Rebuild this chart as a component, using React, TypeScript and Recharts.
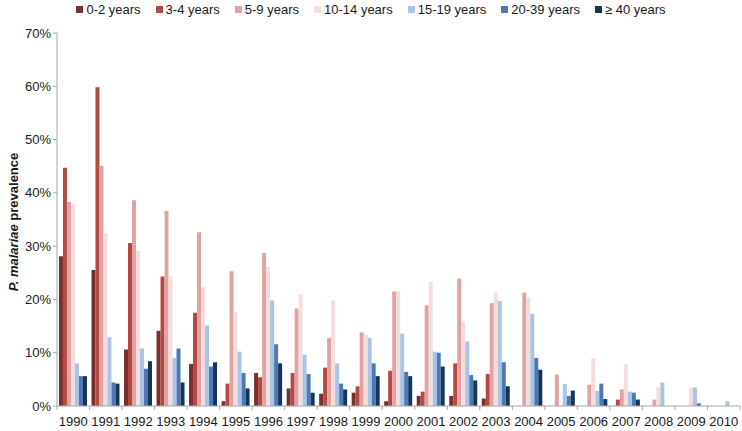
import React from 'react';
import { BarChart, Bar, XAxis, YAxis } from 'recharts';

const years = ['1990', '1991', '1992', '1993', '1994', '1995', '1996', '1997', '1998', '1999', '2000', '2001', '2002', '2003', '2004', '2005', '2006', '2007', '2008', '2009', '2010'];

const age0to2 = [28.1, 25.5, 10.6, 14.1, 7.9, 0.9, 6.2, 3.3, 2.3, 2.5, 0.9, 1.9, 1.9, 1.4, 0, 0, 0, 0, 0, 0, 0];
const age3to4 = [44.7, 59.8, 30.6, 24.3, 17.5, 4.2, 5.4, 6.2, 7.2, 3.7, 6.6, 2.7, 8.0, 6.0, 0, 0, 0, 1.2, 0, 0, 0];
const age5to9 = [38.3, 45.1, 38.6, 36.6, 32.6, 25.3, 28.7, 18.3, 12.8, 13.8, 21.5, 18.9, 23.9, 19.3, 21.3, 5.9, 4.0, 3.1, 1.2, 0, 0];
const age10to14 = [38.0, 32.4, 29.1, 24.3, 22.3, 17.7, 26.1, 20.9, 19.8, 13.4, 21.5, 23.3, 15.8, 21.3, 20.3, 0, 9.0, 7.8, 3.5, 3.4, 0];
const age15to19 = [8.0, 12.9, 10.8, 9.0, 15.1, 10.2, 19.8, 9.6, 8.0, 12.8, 13.6, 10.2, 12.1, 19.7, 17.3, 4.1, 2.8, 2.7, 4.4, 3.5, 0.9];
const age20to39 = [5.6, 4.4, 7.0, 10.8, 7.4, 6.2, 11.6, 6.0, 4.2, 8.0, 6.4, 10.0, 5.8, 8.2, 9.0, 1.9, 4.2, 2.5, 0, 0.5, 0];
const age40plus = [5.6, 4.2, 8.4, 4.4, 8.2, 3.3, 8.0, 2.5, 3.1, 5.6, 5.6, 7.4, 4.8, 3.7, 6.8, 2.9, 1.3, 1.2, 0, 0, 0];

const yTicks = [0, 10, 20, 30, 40, 50, 60, 70];

const series = [
  { key: 'a', name: '0-2 years', values: age0to2, color: '#7a2f2e' },
  { key: 'b', name: '3-4 years', values: age3to4, color: '#b54745' },
  { key: 'c', name: '5-9 years', values: age5to9, color: '#e0a3a2' },
  { key: 'd', name: '10-14 years', values: age10to14, color: '#f6dddd' },
  { key: 'e', name: '15-19 years', values: age15to19, color: '#a9c5e6' },
  { key: 'f', name: '20-39 years', values: age20to39, color: '#4b79b0' },
  { key: 'g', name: '\u2265 40 years', values: age40plus, color: '#16345a' },
];

const data = years.map((year, i) => {
  const row: Record<string, string | number> = { year };
  series.forEach((s) => {
    row[s.key] = s.values[i];
  });
  return row;
});

const FONT = '"Liberation Sans", Arial, sans-serif';
const W = 742;
const H = 431;
const PLOT_LEFT = 57;
const PLOT_RIGHT = 740;
const HALF_BAND = (PLOT_RIGHT - PLOT_LEFT) / years.length / 2;

const YearTick = (props: any) => {
  const { x, y, payload, index } = props;
  const isLast = index === years.length - 1;
  return (
    <g>
      <line x1={x - HALF_BAND} y1={y - 8} x2={x - HALF_BAND} y2={y - 4} stroke="#a6a6a6" />
      {isLast && <line x1={x + HALF_BAND} y1={y - 8} x2={x + HALF_BAND} y2={y - 4} stroke="#a6a6a6" />}
      <text x={x} y={y + 12} textAnchor="middle" fontSize={13} fill="#1a1a1a" fontFamily={FONT}>
        {payload.value}
      </text>
    </g>
  );
};

const YLabel = () => (
  <text
    transform="translate(18, 222) rotate(-90)"
    textAnchor="middle"
    fontSize={13}
    fontWeight="bold"
    fill="#1a1a1a"
    fontFamily={FONT}
  >
    <tspan fontStyle="italic">P. malariae</tspan>
    <tspan> prevalence</tspan>
  </text>
);

export default function App() {
  return (
    <div style={{ position: 'absolute', left: 0, top: 0, width: W, height: H, background: '#fff', fontFamily: FONT }}>
      <div
        style={{
          position: 'absolute',
          top: 2,
          left: 0,
          width: W,
          display: 'flex',
          justifyContent: 'center',
          gap: 15,
          fontSize: 13,
          color: '#1a1a1a',
        }}
      >
        {series.map((s) => (
          <div key={s.key} style={{ display: 'flex', alignItems: 'center' }}>
            <span style={{ width: 7, height: 7, background: s.color, marginRight: 3, display: 'inline-block' }} />
            <span>{s.name}</span>
          </div>
        ))}
      </div>
      <BarChart
        width={W}
        height={H}
        data={data}
        margin={{ top: 33, right: W - PLOT_RIGHT, left: 0, bottom: 0 }}
        barCategoryGap="6%"
        barGap={0}
      >
        <XAxis
          dataKey="year"
          height={25}
          stroke="#a6a6a6"
          tickLine={false}
          tick={<YearTick />}
          interval={0}
        />
        <YAxis
          width={PLOT_LEFT}
          domain={[0, 70]}
          ticks={yTicks}
          tickFormatter={(v: number) => `${v}%`}
          stroke="#a6a6a6"
          tickSize={4}
          tick={{ fontSize: 13, fill: '#1a1a1a', fontFamily: FONT }}
          interval={0}
          label={<YLabel />}
        />
        {series.map((s) => (
          <Bar key={s.key} dataKey={s.key} name={s.name} fill={s.color} isAnimationActive={false} />
        ))}
      </BarChart>
    </div>
  );
}
